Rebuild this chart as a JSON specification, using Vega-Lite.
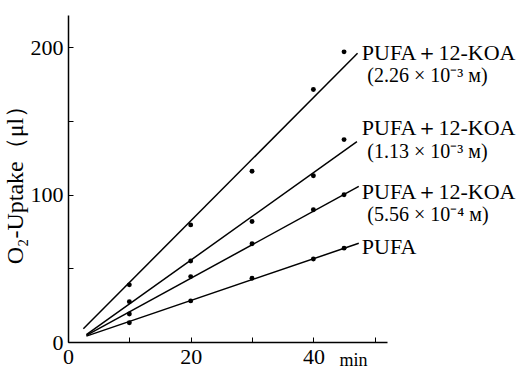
{
  "$schema": "https://vega.github.io/schema/vega-lite/v6.json",
  "width": 319,
  "height": 327,
  "autosize": "none",
  "padding": {"left": 68, "top": 15, "right": 136, "bottom": 27},
  "background": "white",
  "config": {
    "view": {"stroke": null},
    "font": "Liberation Serif",
    "axis": {
      "domainColor": "black",
      "domainWidth": 1.5,
      "tickColor": "black",
      "tickWidth": 1,
      "labelColor": "black",
      "titleColor": "black",
      "grid": false,
      "labelFont": "Liberation Serif",
      "titleFont": "Liberation Serif",
      "labelFontSize": 22,
      "titleFontWeight": "normal"
    }
  },
  "datasets": {
    "points": [
      {"series": "A", "t": 10, "v": 38.8},
      {"series": "A", "t": 20, "v": 79.5},
      {"series": "A", "t": 30, "v": 115.9},
      {"series": "A", "t": 40, "v": 171.4},
      {"series": "A", "t": 45, "v": 197},
      {"series": "B", "t": 10, "v": 27.4},
      {"series": "B", "t": 20, "v": 55},
      {"series": "B", "t": 30, "v": 81.8},
      {"series": "B", "t": 40, "v": 112.9},
      {"series": "B", "t": 45, "v": 137.4},
      {"series": "C", "t": 10, "v": 19},
      {"series": "C", "t": 20, "v": 44.4},
      {"series": "C", "t": 30, "v": 66.7},
      {"series": "C", "t": 40, "v": 89.8},
      {"series": "C", "t": 45, "v": 100},
      {"series": "D", "t": 10, "v": 13.1},
      {"series": "D", "t": 20, "v": 27.9},
      {"series": "D", "t": 30, "v": 43.3},
      {"series": "D", "t": 40, "v": 56.3},
      {"series": "D", "t": 45, "v": 63.7}
    ],
    "fits": [
      {"series": "A", "t": 2.5, "v": 9},
      {"series": "A", "t": 47.2, "v": 196},
      {"series": "B", "t": 3, "v": 5},
      {"series": "B", "t": 47.1, "v": 136},
      {"series": "C", "t": 3, "v": 4.5},
      {"series": "C", "t": 47.4, "v": 105.6},
      {"series": "D", "t": 3, "v": 4},
      {"series": "D", "t": 47.4, "v": 67}
    ],
    "names": [
      {"t": 47.9, "v": 196.2, "label": "PUFA＋12-KOA"},
      {"t": 47.9, "v": 145.3, "label": "PUFA＋12-KOA"},
      {"t": 47.9, "v": 101.8, "label": "PUFA＋12-KOA"},
      {"t": 47.9, "v": 64.5, "label": "PUFA"}
    ],
    "concs": [
      {"t": 48.8, "v": 180.6, "label": "(2.26 × 10⁻³ ᴍ)"},
      {"t": 48.8, "v": 129, "label": "(1.13 × 10⁻³ ᴍ)"},
      {"t": 48.8, "v": 86.2, "label": "(5.56 × 10⁻⁴ ᴍ)"}
    ]
  },
  "layer": [
    {
      "data": {"name": "fits"},
      "mark": {"type": "line", "color": "black", "strokeWidth": 1.5, "clip": false},
      "encoding": {
        "x": {
          "field": "t", "type": "quantitative",
          "scale": {"domain": [0, 52], "nice": false, "zero": false},
          "axis": {
            "values": [0, 10, 20, 30, 40, 50],
            "labelExpr": "datum.value % 20 === 0 ? datum.label : ''",
            "tickSize": -5,
            "labelPadding": 9,
            "title": "min",
            "titleFontSize": 18,
            "titleX": 285,
            "titleY": 23,
            "titleAlign": "center",
            "titleBaseline": "alphabetic",
            "labelFlush": false
          }
        },
        "y": {
          "field": "v", "type": "quantitative",
          "scale": {"domain": [0, 222], "nice": false},
          "axis": {
            "values": [0, 50, 100, 150, 200],
            "labelExpr": "datum.value % 100 === 0 ? datum.label : ''",
            "tickSize": -5,
            "labelPadding": 10,
            "title": "O₂-Uptake（μl）",
            "titleFontSize": 24,
            "titlePadding": 3,
            "labelFlush": false
          }
        },
        "detail": {"field": "series"}
      }
    },
    {
      "data": {"name": "points"},
      "mark": {"type": "point", "filled": true, "color": "black", "opacity": 1, "size": 24},
      "encoding": {
        "x": {"field": "t", "type": "quantitative"},
        "y": {"field": "v", "type": "quantitative"}
      }
    },
    {
      "data": {"name": "names"},
      "mark": {"type": "text", "align": "left", "baseline": "middle", "fontSize": 22, "color": "black", "font": "Liberation Serif"},
      "encoding": {
        "x": {"field": "t", "type": "quantitative"},
        "y": {"field": "v", "type": "quantitative"},
        "text": {"field": "label"}
      }
    },
    {
      "data": {"name": "concs"},
      "mark": {"type": "text", "align": "left", "baseline": "middle", "fontSize": 20, "color": "black", "font": "Liberation Serif"},
      "encoding": {
        "x": {"field": "t", "type": "quantitative"},
        "y": {"field": "v", "type": "quantitative"},
        "text": {"field": "label"}
      }
    }
  ]
}
